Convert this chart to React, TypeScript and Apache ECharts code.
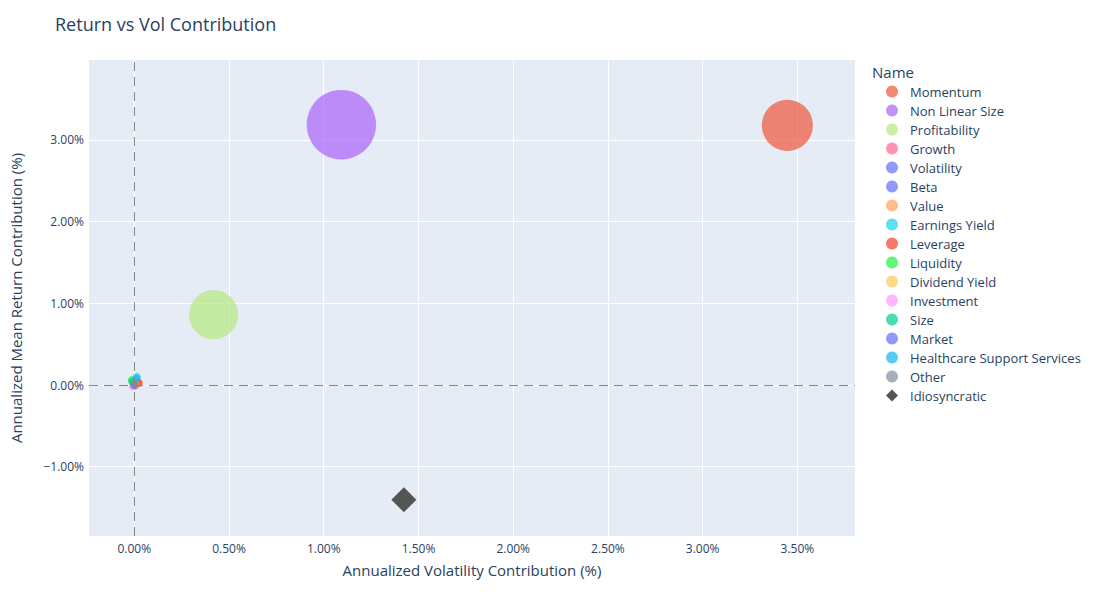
import { useRef, useEffect } from "react";
import * as echarts from "echarts";

const names = [
  "Momentum", "Non Linear Size", "Profitability", "Growth", "Volatility", "Beta", "Value",
  "Earnings Yield", "Leverage", "Liquidity", "Dividend Yield", "Investment", "Size", "Market",
  "Healthcare Support Services", "Other",
];
// annualized volatility contribution (%)
const volContrib = [3.447, 1.093, 0.419, 0.004, 0.002, 0.0, 0.02, 0.013, 0.024, -0.014, 0.003, -0.008, -0.01, 0.0, 0.012, 0.0];
// annualized mean return contribution (%)
const retContrib = [3.178, 3.187, 0.861, -0.01, 0.005, 0.0, 0.03, 0.1, 0.025, 0.06, 0.01, -0.02, 0.04, 0.0, 0.08, 0.0];
// bubble magnitude (relative)
const bubble = [0.54, 1.0, 0.5, 0.013, 0.013, 0.013, 0.013, 0.013, 0.013, 0.013, 0.013, 0.013, 0.013, 0.013, 0.013, 0.013];
const colors = [
  "#EF553B", "#AB63FA", "#B6E880", "#FF6692", "#636EFA", "#636EFA", "#FFA15A", "#19D3F3",
  "#F2402A", "#1CF23C", "#FECB52", "#FF97FF", "#00CC96", "#636EFA", "#0EB6F0", "#7F8E9C",
];
const idioName = "Idiosyncratic";
const idioPoint = [1.423, -1.404];

const xTicks = [0, 0.5, 1, 1.5, 2, 2.5, 3, 3.5];
const yTicks = [-1, 0, 1, 2, 3];

const FONT = "'Open Sans', verdana, arial, sans-serif";
const TXT = "#2a3f5f";

export default function App() {
  const chartRef = useRef<HTMLDivElement>(null);
  useEffect(() => {
    if (!chartRef.current) return;
    const chart = echarts.init(chartRef.current, null, { renderer: "svg" });
    const series: any[] = names.map((n, i) => ({
      name: n,
      type: "scatter",
      data: [[volContrib[i], retContrib[i], bubble[i]]],
      symbol: "circle",
      symbolSize: (d: number[]) => 69.5 * Math.sqrt(d[2]),
      itemStyle: { color: colors[i], opacity: 0.7 },
      emphasis: { disabled: true },
    }));
    series.push({
      name: idioName,
      type: "scatter",
      data: [idioPoint],
      symbol: "diamond",
      symbolSize: 25,
      itemStyle: { color: "#555555", opacity: 1 },
      emphasis: { disabled: true },
    });
    series[0].markLine = {
      silent: true,
      symbol: "none",
      label: { show: false },
      lineStyle: { color: "#888888", type: [9, 6], width: 1 },
      data: [{ xAxis: 0 }, { yAxis: 0 }],
    };
    const option: any = {
      animation: false,
      textStyle: { fontFamily: FONT },
      title: {
        text: "Return vs Vol Contribution",
        left: 50, top: 10,
        textStyle: { fontFamily: FONT, fontSize: 18, fontWeight: "normal", color: TXT },
      },
      grid: {
        left: 88, right: 245, top: 60, bottom: 80,
        show: true, backgroundColor: "#E5ECF6", borderWidth: 0,
      },
      xAxis: {
        type: "value", min: -0.239, max: 3.804,
        name: "Annualized Volatility Contribution (%)", nameLocation: "middle", nameGap: 26,
        nameTextStyle: { fontFamily: FONT, fontSize: 15, color: TXT },
        axisLine: { show: false },
        axisTick: { show: false, customValues: xTicks },
        axisLabel: {
          customValues: xTicks, margin: 6, color: TXT, fontSize: 12, fontFamily: FONT,
          formatter: (v: number) => v.toFixed(2) + "%",
        },
        splitLine: { show: true, lineStyle: { color: "#ffffff", width: 1 } },
      },
      yAxis: {
        type: "value", min: -1.848, max: 3.978,
        name: "Annualized Mean Return Contribution (%)", nameLocation: "middle", nameGap: 66,
        nameTextStyle: { fontFamily: FONT, fontSize: 15, color: TXT },
        axisLine: { show: false },
        axisTick: { show: false, customValues: yTicks },
        axisLabel: {
          customValues: yTicks, margin: 5, color: TXT, fontSize: 12, fontFamily: FONT,
          formatter: (v: number) => (v < 0 ? "\u2212" + Math.abs(v).toFixed(2) : v.toFixed(2)) + "%",
        },
        splitLine: { show: true, lineStyle: { color: "#ffffff", width: 1 } },
      },
      legend: {
        orient: "vertical", left: 881, top: 80,
        itemWidth: 12, itemHeight: 12, itemGap: 6,
        data: [...names.map((n) => ({ name: n, icon: "circle" })), { name: idioName, icon: "diamond" }],
        textStyle: { fontFamily: FONT, fontSize: 13, lineHeight: 12, color: TXT, padding: [0, 0, 0, 7] },
      },
      graphic: [
        {
          type: "text", left: 872, top: 64,
          style: { text: "Name", fontFamily: FONT, fontSize: 15, fill: TXT },
        },
      ],
      series,
    };
    chart.setOption(option);
    return () => { chart.dispose(); };
  }, []);
  return <div ref={chartRef} style={{ width: 1100, height: 616, margin: -8, background: "#fff" }} />;
}
